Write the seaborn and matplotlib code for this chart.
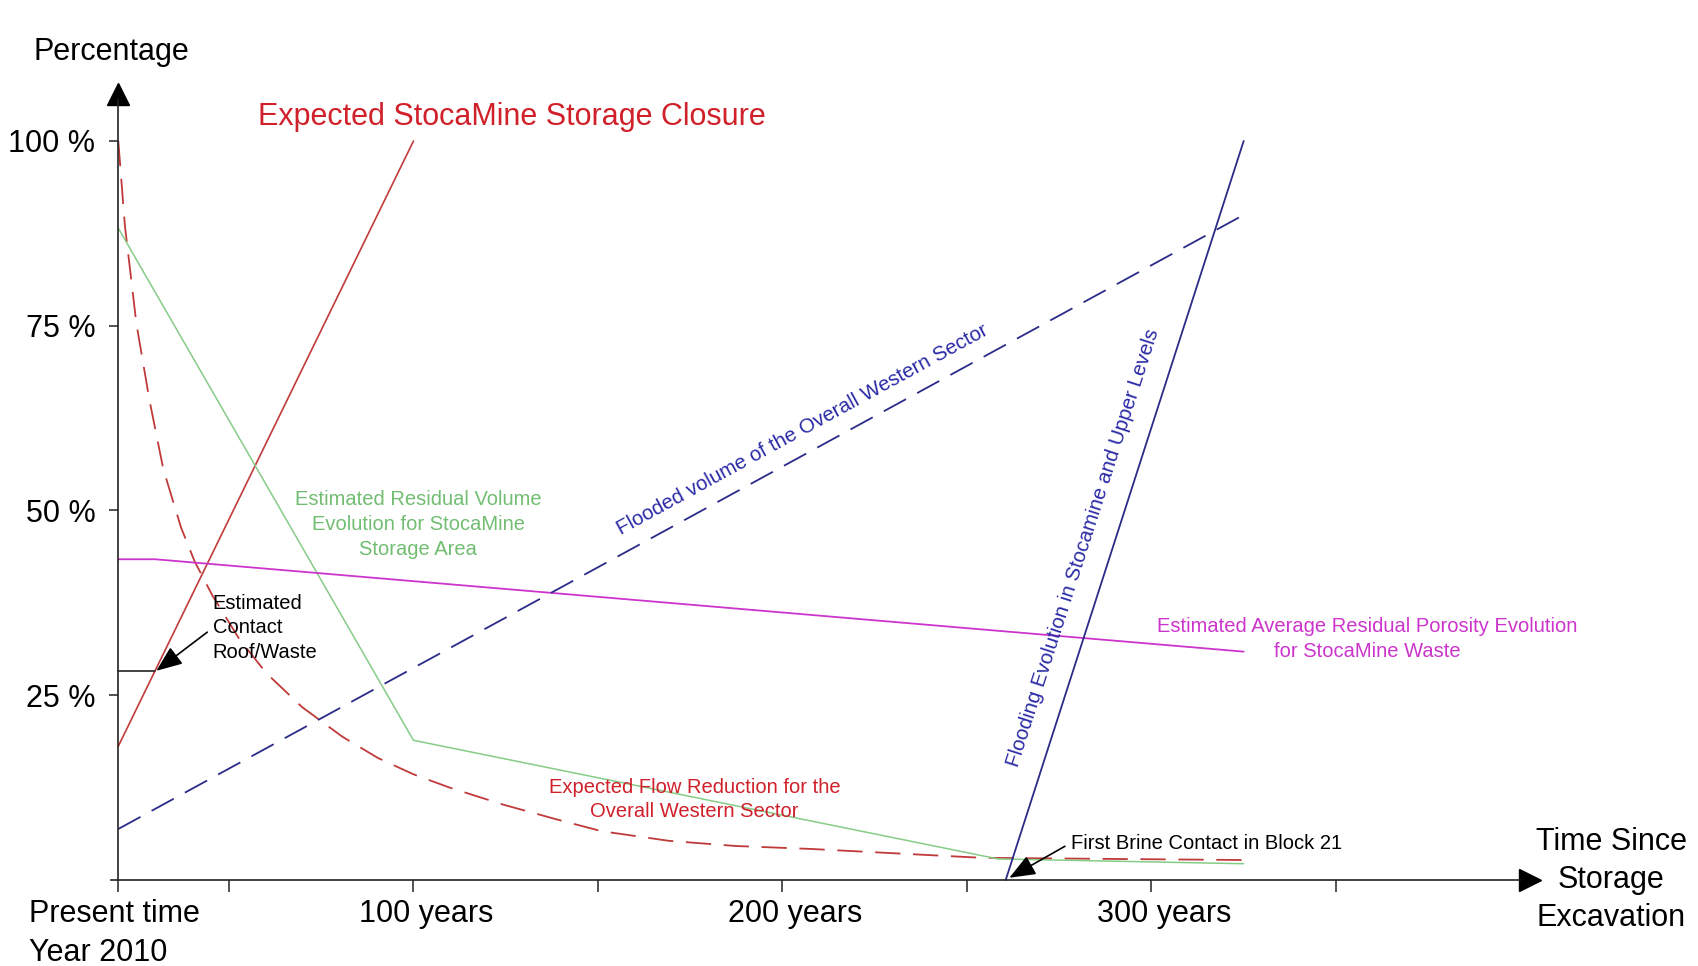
import math
import matplotlib
matplotlib.use("Agg")
import matplotlib.pyplot as plt
from matplotlib.transforms import ScaledTranslation
import seaborn as sns

# ---------------- data (years since storage excavation, percentage) ----------------
closure_years = [20, 100]
closure_pct = [18.1, 100]

flow_years = [20, 21.8, 24.9, 28.5, 32.2, 37.0, 40.7, 45.5, 52.8, 60.1, 69.8, 80.7,
              90.4, 100, 109.8, 124.3, 138.8, 151, 169.2, 187.3, 207.7, 254, 325]
flow_pct = [100, 88.5, 75.3, 64.8, 55.6, 47.7, 43.1, 38.5, 32.6, 28.0, 23.4, 19.4,
            16.5, 14.3, 12.5, 10.2, 8.2, 6.6, 5.3, 4.6, 4.2, 3.0, 2.7]

volume_years = [20, 100, 258.4, 325]
volume_pct = [88.2, 18.9, 2.85, 2.2]

porosity_years = [20, 30, 325]
porosity_pct = [43.4, 43.4, 30.9]

flooded_years = [20, 325]
flooded_pct = [6.9, 90.0]

flooding_years = [260.5, 325]
flooding_pct = [0, 100]

contact_year = 30
contact_pct = 28.3
brine_year = 261.5

x_ticks = [20, 50, 100, 150, 200, 250, 300, 350]
x_tick_labels = ["Present time\nYear 2010", "", "100 years", "", "200 years", "", "300 years", ""]
y_ticks = [25, 50, 75, 100]
y_tick_labels = ["25 %", "50 %", "75 %", "100 %"]

# ---------------- style ----------------
sns.set_theme(style="white")
plt.rcParams["font.family"] = ["Liberation Sans", "DejaVu Sans"]

RED_T = "#d0202a"
RED_L = "#c03a3a"
GREEN_L = "#86cc86"
GREEN_T = "#72bd72"
MAG = "#cc35cc"
BLUE_L = "#2b2b88"
BLUE_T = "#2a2aa6"
AX_C = "#222222"

fig = plt.figure(figsize=(16.99, 9.66), dpi=100)
ax = fig.add_axes([0, 0, 1, 1])
ax.set_xlim(-12.06, 448.4)
ax.set_ylim(-11.64, 119.08)

dash = (0, (14, 7))
sns.lineplot(x=closure_years, y=closure_pct, ax=ax, color=RED_L, linewidth=1.2, errorbar=None)
sns.lineplot(x=flow_years, y=flow_pct, ax=ax, color=RED_L, linewidth=1.3, linestyle=dash, errorbar=None)
sns.lineplot(x=volume_years, y=volume_pct, ax=ax, color=GREEN_L, linewidth=1.1, errorbar=None)
sns.lineplot(x=porosity_years, y=porosity_pct, ax=ax, color=MAG, linewidth=1.3, errorbar=None)
sns.lineplot(x=flooded_years, y=flooded_pct, ax=ax, color=BLUE_L, linewidth=1.3, linestyle=dash, errorbar=None)
sns.lineplot(x=flooding_years, y=flooding_pct, ax=ax, color=BLUE_L, linewidth=1.3, errorbar=None)

# contact marker lines
sns.lineplot(x=[x_ticks[0], contact_year], y=[contact_pct, contact_pct], ax=ax,
             color=AX_C, linewidth=1.2, errorbar=None)
sns.lineplot(x=[contact_year, contact_year], y=[0, contact_pct], ax=ax,
             color=AX_C, linewidth=1.3, linestyle=(0, (16, 6)), errorbar=None)

ax.set_xlim(-12.06, 448.4)
ax.set_ylim(-11.64, 119.08)
ax.set_xlabel("")
ax.set_ylabel("")

# ---------------- axes ----------------
for s in ["top", "right"]:
    ax.spines[s].set_visible(False)
ax.spines["left"].set_position(("data", x_ticks[0]))
ax.spines["bottom"].set_position(("data", 0))
ax.spines["left"].set_bounds(0, 105.5)
ax.spines["bottom"].set_bounds(18, 400)
for s in ["left", "bottom"]:
    ax.spines[s].set_color(AX_C)
    ax.spines[s].set_linewidth(1.2)

ax.plot([x_ticks[0]], [106.4], marker="^", markersize=16, color="black", clip_on=False)
ax.plot([402.5], [0], marker=">", markersize=16, color="black", clip_on=False)

ax.set_xticks(x_ticks)
ax.set_xticklabels(x_tick_labels)
ax.set_yticks(y_ticks)
ax.set_yticklabels(y_tick_labels)
ax.tick_params(axis="x", direction="out", length=8.5, width=1.1, color=AX_C,
               pad=5.5, labelsize=22, labelcolor="black", bottom=True)
ax.tick_params(axis="y", direction="out", length=6.5, width=1.1, color=AX_C,
               pad=10, labelsize=22, labelcolor="black", left=True)
xlabels = ax.get_xticklabels()
for i, lab in enumerate(xlabels):
    dx = -3.5 if i == 0 else 13
    lab.set_transform(lab.get_transform() + ScaledTranslation(dx / 100, 0, fig.dpi_scale_trans))
xlabels[0].set_multialignment("left")
xlabels[0].set_linespacing(1.38)
ax.grid(False)

# ---------------- texts ----------------
ax.text(18.2, 112, "Percentage", fontsize=22, ha="center", va="center", color="black")
ax.text(424.6, 0.0, "Time Since\nStorage\nExcavation", fontsize=22, ha="center",
        va="center", color="black", linespacing=1.36)
ax.text(126.8, 103.3, "Expected StocaMine Storage Closure", fontsize=22,
        ha="center", va="center", color=RED_T)

ax.text(101.3, 48.1, "Estimated Residual Volume\nEvolution for StocaMine\nStorage Area",
        fontsize=14.5, ha="center", va="center", color=GREEN_T, linespacing=1.37)
ax.text(176.2, 10.9, "Expected Flow Reduction for the\nOverall Western Sector",
        fontsize=14.5, ha="center", va="center", color=RED_T, linespacing=1.37)
ax.text(358.5, 32.6, "Estimated Average Residual Porosity Evolution\nfor StocaMine Waste",
        fontsize=14.5, ha="center", va="center", color=MAG, linespacing=1.37)


def angle_of(xs, ys):
    p1 = ax.transData.transform((xs[0], ys[0]))
    p2 = ax.transData.transform((xs[-1], ys[-1]))
    return math.degrees(math.atan2(p2[1] - p1[1], p2[0] - p1[0]))


ax.text(205.4, 60.9, "Flooded volume of the Overall Western Sector", fontsize=14.8,
        rotation=angle_of(flooded_years, flooded_pct), rotation_mode="anchor",
        ha="center", va="center", color=BLUE_T)
ax.text(281.6, 45.0, "Flooding Evolution in Stocamine and Upper Levels", fontsize=14.8,
        rotation=angle_of(flooding_years, flooding_pct), rotation_mode="anchor",
        ha="center", va="center", color=BLUE_T)

arrow = dict(arrowstyle="-|>,head_length=0.8,head_width=0.32", color="black",
             lw=1.2, mutation_scale=20, shrinkA=2, shrinkB=0, relpos=(0, 0.5))
ax.annotate("Estimated\nContact\nRoof/Waste", xy=(contact_year + 0.3, contact_pct),
            xytext=(45.6, 34.1), fontsize=14.5, ha="left", va="center",
            linespacing=1.37, color="black", arrowprops=arrow)
ax.annotate("First Brine Contact in Block 21", xy=(brine_year, 0.3),
            xytext=(278.1, 5.0), fontsize=14.5, ha="left", va="center",
            color="black", arrowprops=arrow)

fig.savefig("out.png", dpi=100, facecolor="white")
